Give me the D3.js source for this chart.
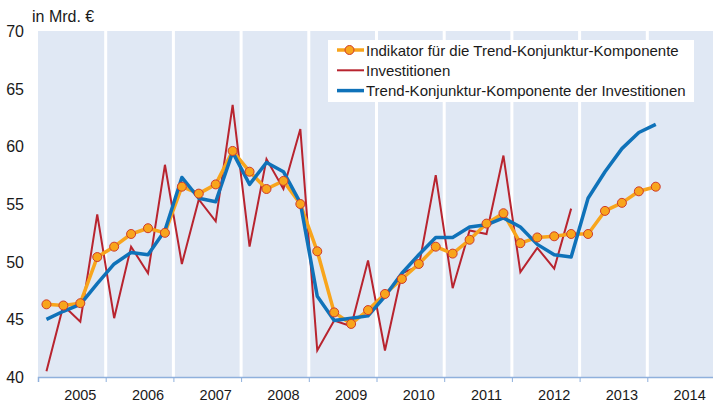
<!DOCTYPE html>
<html>
<head>
<meta charset="utf-8">
<script src="https://cdn.jsdelivr.net/npm/d3@7"></script>
<style>
  body { margin: 0; background: #fff; }
  text { font-family: "Liberation Sans", Arial, sans-serif; fill: #1a1a1a; }
</style>
</head>
<body>
<script>
const width = 713
const height = 405

// Data: quarterly values from 2005 Q1 on, in Mrd. €
const years = [2005, 2006, 2007, 2008, 2009, 2010, 2011, 2012, 2013, 2014]
const yTicks = [40, 45, 50, 55, 60, 65, 70]
const investitionen = [
  40.5, 46.2, 44.8, 54.1, 45.1, 51.3, 49.0, 58.4,
  49.8, 55.4, 53.5, 63.6, 51.3, 58.9, 56.3, 61.5,
  42.3, 44.9, 44.4, 50.1, 42.3, 49.0, 49.6, 57.5,
  47.7, 52.7, 52.4, 59.2, 49.1, 51.2, 49.4, 54.6
]
const trendKomponente = [
  45.0, 45.7, 46.3, 48.1, 49.8, 50.8, 50.6, 52.7,
  57.3, 55.5, 55.2, 59.5, 56.7, 58.6, 57.8, 55.1,
  47.0, 44.9, 45.1, 45.3, 47.0, 49.0, 50.6, 52.1,
  52.1, 53.0, 53.2, 53.8, 53.0, 51.5, 50.6, 50.4,
  55.5, 57.8, 59.8, 61.2, 61.9
]
const indikator = [
  46.3, 46.2, 46.4, 50.4, 51.3, 52.4, 52.9, 52.5,
  56.5, 55.9, 56.7, 59.6, 57.8, 56.3, 57.0, 55.0,
  50.9, 45.6, 44.6, 45.8, 47.2, 48.5, 49.8, 51.3,
  50.7, 51.9, 53.3, 54.2, 51.6, 52.1, 52.2, 52.4,
  52.4, 54.4, 55.1, 56.1, 56.5
]
const legendLabels = [
  'Indikator für die Trend-Konjunktur-Komponente',
  'Investitionen',
  'Trend-Konjunktur-Komponente der Investitionen'
]

const colors = { orange: '#f8a51c', red: '#b8242f', blue: '#0f72b9', marker: '#cf3b2c' }

const svg = d3.select('body').append('svg')
  .attr('width', width)
  .attr('height', height)

const x = d3.scaleLinear().domain([2005, 2015]).range([38, 715])
const y = d3.scaleLinear().domain([40, 70]).range([377, 31])

// quarter index -> decimal year at mid-quarter
const qx = (d, i) => x(2005 + (i + 0.5) / 4)

// Plot background
svg.append('rect')
  .attr('x', x(2005)).attr('y', y(70))
  .attr('width', x(2015) - x(2005)).attr('height', y(40) - y(70))
  .attr('fill', '#e0e8f4')

// White year separators
svg.append('g').selectAll('line')
  .data(years.slice(1))
  .enter().append('line')
  .attr('x1', d => x(d)).attr('x2', d => x(d))
  .attr('y1', y(70)).attr('y2', y(40))
  .attr('stroke', '#fff').attr('stroke-width', 3)

// X axis
const xAxis = svg.append('g')
  .attr('transform', `translate(0,${y(40)})`)
  .call(d3.axisBottom(x).tickValues(d3.range(2005, 2015)).tickSize(5).tickFormat(''))
xAxis.select('.domain').attr('stroke', '#8fb0dc').attr('stroke-width', 1.5)
xAxis.selectAll('.tick line').attr('stroke', '#8fb0dc')

svg.append('g').selectAll('text')
  .data(years)
  .enter().append('text')
  .attr('x', d => x(d + 0.625))
  .attr('y', 400)
  .attr('text-anchor', 'middle')
  .attr('font-size', 14.5)
  .text(d => d)

// Y labels
svg.append('g').selectAll('text')
  .data(yTicks)
  .enter().append('text')
  .attr('x', 24)
  .attr('y', d => y(d) + 6)
  .attr('text-anchor', 'end')
  .attr('font-size', 16)
  .text(d => d)

svg.append('text')
  .attr('x', 32).attr('y', 22)
  .attr('font-size', 16)
  .text('in Mrd. €')

// Lines
const line = d3.line().x(qx).y(d => y(d))

svg.append('path').datum(investitionen)
  .attr('d', line).attr('fill', 'none')
  .attr('stroke', colors.red).attr('stroke-width', 2).attr('stroke-linejoin', 'miter')

svg.append('path').datum(indikator)
  .attr('d', line).attr('fill', 'none')
  .attr('stroke', colors.orange).attr('stroke-width', 3.5).attr('stroke-linejoin', 'round')

svg.append('path').datum(trendKomponente)
  .attr('d', line).attr('fill', 'none')
  .attr('stroke', colors.blue).attr('stroke-width', 3.5).attr('stroke-linejoin', 'round')

svg.append('g').selectAll('circle')
  .data(indikator)
  .enter().append('circle')
  .attr('cx', qx).attr('cy', d => y(d)).attr('r', 4.5)
  .attr('fill', colors.orange).attr('stroke', colors.marker).attr('stroke-width', 1)

// Legend
const legend = svg.append('g')
legend.append('rect')
  .attr('x', 328).attr('y', 40).attr('width', 366).attr('height', 62)
  .attr('fill', '#fff')

const legendItems = [
  { color: colors.orange, w: 3.5, marker: true },
  { color: colors.red, w: 2, marker: false },
  { color: colors.blue, w: 3.5, marker: false }
]
const item = legend.selectAll('g.item')
  .data(legendItems)
  .enter().append('g').classed('item', true)
  .attr('transform', (d, i) => `translate(0,${50 + i * 20.3})`)
item.append('line')
  .attr('x1', 337).attr('x2', 364)
  .attr('stroke', d => d.color).attr('stroke-width', d => d.w)
item.filter(d => d.marker).append('circle')
  .attr('cx', 349.5).attr('r', 4.5)
  .attr('fill', colors.orange).attr('stroke', colors.marker)
item.append('text')
  .attr('x', 366).attr('y', 5.5)
  .attr('font-size', 15)
  .text((d, i) => legendLabels[i])
</script>
</body>
</html>
